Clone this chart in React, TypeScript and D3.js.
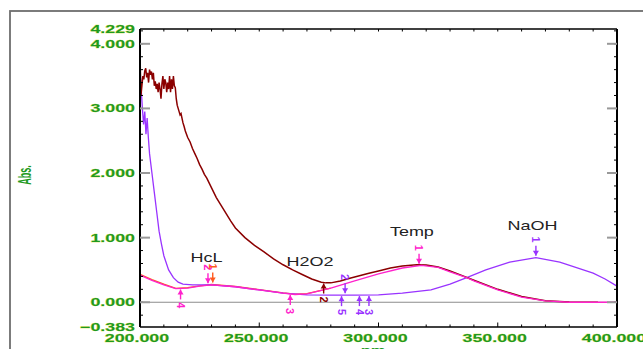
import React from 'react';
import * as d3 from 'd3';

const W = 643, H = 349;

// ---------- data ----------
const xMajorTicks = [200, 250, 300, 350, 400];
const yMajorTicks = [0, 1, 2, 3, 4];
const yEndLabels = [-0.383, 4.229];

const h2o2Nm = [200.0, 200.4, 200.8, 201.2, 201.6, 202.0, 202.4, 202.8, 203.2, 203.6, 204.0, 204.4, 204.8, 205.2, 205.6, 206.0, 206.4, 206.8, 207.2, 207.6, 208.0, 208.4, 208.8, 209.2, 209.6, 210.0, 210.4, 210.8, 211.2, 211.6, 212.0, 212.4, 212.8, 213.2, 213.6, 214.0, 214.4, 214.8, 215.2, 215.6, 216.0, 216.4, 216.8, 217.2, 217.6, 218.0, 218.5, 219.0, 220, 221, 222, 223, 224, 225, 226, 227, 228, 230, 232, 234, 236, 238, 240, 244, 248, 252, 256, 260, 264, 268, 272, 276, 278, 280, 284, 288, 292, 296, 300, 305, 310, 316, 320, 325, 330, 340, 350, 360, 370, 380, 392];
const h2o2Abs = [3.83, 3.20, 3.35, 3.50, 3.45, 3.58, 3.62, 3.48, 3.55, 3.40, 3.60, 3.52, 3.57, 3.45, 3.55, 3.35, 3.42, 3.30, 3.38, 3.25, 3.40, 3.30, 3.15, 3.38, 3.50, 3.30, 3.45, 3.40, 3.25, 3.40, 3.30, 3.50, 3.25, 3.45, 3.30, 3.50, 3.35, 3.32, 3.15, 3.05, 3.00, 2.95, 2.90, 2.92, 2.85, 2.78, 2.72, 2.65, 2.55, 2.48, 2.38, 2.30, 2.22, 2.13, 2.06, 1.98, 1.92, 1.77, 1.62, 1.50, 1.38, 1.26, 1.15, 1.00, 0.88, 0.78, 0.67, 0.58, 0.50, 0.43, 0.36, 0.31, 0.30, 0.30, 0.33, 0.37, 0.41, 0.45, 0.485, 0.53, 0.56, 0.58, 0.575, 0.545, 0.485, 0.34, 0.20, 0.09, 0.025, 0.005, 0.0];

const naohNm = [200.0, 200.5, 201.0, 201.5, 202.0, 202.5, 203.0, 203.5, 204, 205, 206, 207, 208, 209, 210, 212, 214, 216, 218, 222, 230, 240, 250, 260, 270, 280, 290, 300, 310, 322, 330, 337, 345, 355, 366, 376, 390, 395, 400];
const naohAbs = [3.60, 3.30, 3.00, 2.75, 2.95, 2.60, 2.85, 2.55, 2.30, 2.00, 1.70, 1.40, 1.10, 0.90, 0.72, 0.50, 0.38, 0.31, 0.28, 0.27, 0.27, 0.24, 0.19, 0.14, 0.115, 0.11, 0.11, 0.115, 0.14, 0.19, 0.28, 0.38, 0.50, 0.62, 0.69, 0.62, 0.45, 0.36, 0.25];

const tempNm = [200, 205, 210, 215, 220, 225, 230, 240, 250, 260, 265, 270, 280, 290, 300, 310, 318, 325, 330, 337, 340, 350, 360, 370, 380, 400];
const tempAbs = [0.42, 0.34, 0.27, 0.21, 0.22, 0.25, 0.27, 0.24, 0.19, 0.14, 0.12, 0.13, 0.22, 0.33, 0.44, 0.53, 0.57, 0.54, 0.47, 0.38, 0.33, 0.19, 0.08, 0.02, 0.0, 0.0];

const hclNm = [200, 205, 210, 215, 220, 225, 230, 240, 250, 260, 265, 270, 280];
const hclAbs = [0.43, 0.35, 0.28, 0.215, 0.225, 0.255, 0.275, 0.245, 0.195, 0.145, 0.125, 0.135, 0.22];

const seriesNames = ['HcL', 'NaOH', 'H2O2', 'Temp'];
const seriesColors: Record<string, string> = { HcL: '#ff5a1e', NaOH: '#9933ff', Temp: '#ff22cc', H2O2: '#8b0000' };

const labelNames = ['HcL', 'H2O2', 'Temp', 'NaOH'];
const labelNm = [227.9, 271.3, 314.0, 364.6];
const labelAbs = [0.62, 0.56, 1.03, 1.12];

const markerSeries = ['NaOH', 'NaOH', 'NaOH', 'NaOH', 'NaOH', 'Temp', 'Temp', 'Temp', 'Temp', 'HcL', 'H2O2'];
const markerNm = [366, 286, 296, 292, 284.5, 317, 228.5, 263, 217, 230.5, 277];
const markerDir = ['down', 'down', 'up', 'up', 'up', 'down', 'down', 'up', 'up', 'down', 'up'];
const markerLabel = ['1', '2', '3', '4', '5', '1', '2', '3', '4', '1', '2'];

// ---------- layout ----------
const left = 140, right = 617, top = 29, bottom = 327;
const x = d3.scaleLinear().domain([200, 400]).range([left, right]);
const y = d3.scaleLinear().domain([-0.383, 4.229]).range([bottom, top]);

const seriesData: Record<string, { nm: number[]; abs: number[] }> = {
  HcL: { nm: hclNm, abs: hclAbs },
  NaOH: { nm: naohNm, abs: naohAbs },
  Temp: { nm: tempNm, abs: tempAbs },
  H2O2: { nm: h2o2Nm, abs: h2o2Abs },
};

function valueAt(name: string, nm: number) {
  const d = seriesData[name];
  const i = d3.bisectLeft(d.nm, nm);
  if (i <= 0) return d.abs[0];
  if (i >= d.nm.length) return d.abs[d.abs.length - 1];
  const t = (nm - d.nm[i - 1]) / (d.nm[i] - d.nm[i - 1]);
  return d.abs[i - 1] + t * (d.abs[i] - d.abs[i - 1]);
}

const line = d3.line<[number, number]>().x(d => x(d[0])).y(d => y(d[1]));
const fmt = d3.format('.3f');
const green = '#1f9a1f';
const tickFont = 'Arial, "Liberation Sans", sans-serif';

export default function App() {
  const xMinor = d3.range(200, 401, 10);
  const yMinor = d3.range(-0.2, 4.21, 0.2);
  return (
    <svg width={W} height={H} style={{ position: 'absolute', left: 0, top: 0, background: '#fff' }}>
      {/* outer frame */}
      <rect x={10} y={11} width={700} height={400} fill="none" stroke="#6e6e6e" strokeWidth={1.8} />

      {/* zero line */}
      <line x1={left} x2={right} y1={y(0)} y2={y(0)} stroke="#8c8c8c" strokeWidth={1.2} />

      {/* series */}
      {seriesNames.map(name => {
        const d = seriesData[name];
        const pts = d.nm.map((n, i) => [n, d.abs[i]] as [number, number]);
        return (
          <path key={name} d={line(pts) || ''} fill="none" stroke={seriesColors[name]}
            strokeWidth={name === 'H2O2' ? 1.5 : 1.3} strokeLinejoin="miter" />
        );
      })}

      {/* peak markers */}
      {markerNm.map((nm, i) => {
        const s = markerSeries[i];
        const c = seriesColors[s];
        const cx = x(nm);
        const cy = y(valueAt(s, nm));
        const down = markerDir[i] === 'down';
        const y0 = down ? cy - 12 : cy + 11;
        const tip = down ? cy - 2 : cy + 1;
        const ly = down ? cy - 18 : cy + 17;
        const ah = down ? -5 : 5;
        return (
          <g key={'m' + i}>
            <line x1={cx} x2={cx} y1={y0} y2={tip} stroke={c} strokeWidth={1.4} />
            <path d={`M${cx - 3},${tip + ah} L${cx + 3},${tip + ah} L${cx},${tip} Z`} fill={c} />
            <text transform={`translate(${cx},${ly}) rotate(90)`} textAnchor="middle" dy="0.35em"
              fontSize={11} fontWeight="bold" fontFamily={tickFont} fill={c}>{markerLabel[i]}</text>
          </g>
        );
      })}

      {/* series labels */}
      {labelNames.map((n, i) => (
        <text key={n} transform={`translate(${x(labelNm[i])},${y(labelAbs[i])}) scale(1.5,1)`}
          textAnchor="middle" fontSize={12} fontFamily={tickFont} fill="#222">{n}</text>
      ))}

      {/* axes frame */}
      <line x1={left} x2={right} y1={top} y2={top} stroke="#000" strokeWidth={1.5} />
      <line x1={left} x2={right} y1={bottom} y2={bottom} stroke="#000" strokeWidth={1.5} />
      <line x1={left} x2={left} y1={top} y2={bottom} stroke="#000" strokeWidth={2} />
      <line x1={right} x2={right} y1={top} y2={bottom} stroke="#000" strokeWidth={2} />

      {/* x minor ticks */}
      {xMinor.map(v => (
        <g key={'xm' + v}>
          <line x1={x(v)} x2={x(v)} y1={top} y2={top + 2.5} stroke="#000" strokeWidth={1} />
          <line x1={x(v)} x2={x(v)} y1={bottom} y2={bottom - (v % 50 === 0 ? 4.5 : 2.5)} stroke="#000" strokeWidth={1} />
        </g>
      ))}
      {/* y minor ticks */}
      {yMinor.map((v, i) => (
        <g key={'ym' + i}>
          <line x1={left} x2={left + 3} y1={y(v)} y2={y(v)} stroke="#000" strokeWidth={1} />
          <line x1={right} x2={right - 3} y1={y(v)} y2={y(v)} stroke="#000" strokeWidth={1} />
        </g>
      ))}
      {/* y major ticks */}
      {yMajorTicks.map(v => (
        <g key={'yM' + v}>
          <line x1={left} x2={left + 10} y1={y(v)} y2={y(v)} stroke="#999" strokeWidth={2} />
          <line x1={right} x2={right - 10} y1={y(v)} y2={y(v)} stroke="#999" strokeWidth={2} />
        </g>
      ))}

      {/* tick labels */}
      {[...yMajorTicks, ...yEndLabels].map(v => (
        <text key={'yl' + v} transform={`translate(135,${y(v)}) scale(1.62,1)`} textAnchor="end" dy="0.36em"
          fontSize={11} fontWeight="bold" fontFamily={tickFont} fill={green}
          stroke="#d8d820" strokeWidth={0.35} paintOrder="stroke">{fmt(v)}</text>
      ))}
      {xMajorTicks.map(v => (
        <text key={'xl' + v} transform={`translate(${x(v) - 3},338) scale(1.62,1)`} textAnchor="middle" dy="0.36em"
          fontSize={11} fontWeight="bold" fontFamily={tickFont} fill={green}
          stroke="#d8d820" strokeWidth={0.35} paintOrder="stroke">{fmt(v)}</text>
      ))}

      {/* axis titles */}
      <text transform="translate(25,175) rotate(-90) scale(0.75,1.5)" textAnchor="middle" dy="0.36em"
        fontSize={12} fontWeight="bold" fontFamily={tickFont} fill={green}>Abs.</text>
      <text transform="translate(373,354) scale(1.5,1)" textAnchor="middle"
        fontSize={11} fontWeight="bold" fontFamily={tickFont} fill={green}>nm</text>
    </svg>
  );
}
